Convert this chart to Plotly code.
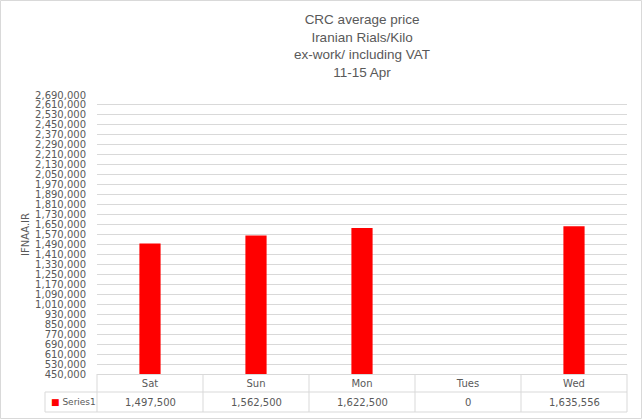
import plotly.graph_objects as go

categories = ["Sat", "Sun", "Mon", "Tues", "Wed"]
values = [1497500, 1562500, 1622500, 0, 1635556]
series_name = "Series1"
title_lines = ["CRC average price", "Iranian Rials/Kilo", "ex-work/ including VAT", "11-15 Apr"]
y_title = "IFNAA.IR"

W, H = 642, 419
L, R, T, B = 97, 15, 95, 45
pw, ph = W - L - R, H - T - B

def px(xp):
    return (xp - L) / pw

def py(yp):
    return (H - B - yp) / ph

GRID = "#d9d9d9"
TXT = "#595959"
TICKFONT = dict(family="DejaVu Sans, Verdana, sans-serif", size=10, color=TXT)

fig = go.Figure()
fig.add_trace(go.Bar(x=categories, y=values, name=series_name, width=0.2,
                     marker=dict(color="#ff0000", line=dict(width=0)), showlegend=False))

shapes = []
line = dict(color=GRID, width=1)
# table horizontal lines
shapes.append(dict(type="line", xref="paper", yref="paper", x0=px(45), x1=1, y0=py(392), y1=py(392), line=line))
shapes.append(dict(type="line", xref="paper", yref="paper", x0=px(45), x1=1, y0=py(412), y1=py(412), line=line))
# table vertical lines
shapes.append(dict(type="line", xref="paper", yref="paper", x0=0, x1=0, y0=0, y1=py(412), line=line))
shapes.append(dict(type="line", xref="paper", yref="paper", x0=1, x1=1, y0=0, y1=py(412), line=line))
shapes.append(dict(type="line", xref="paper", yref="paper", x0=px(45), x1=px(45), y0=py(392), y1=py(412), line=line))
for i in range(len(categories) - 1):
    shapes.append(dict(type="line", xref="x", yref="paper", x0=i + 0.5, x1=i + 0.5, y0=0, y1=py(412), line=line))
# outer border
shapes.append(dict(type="rect", xref="paper", yref="paper", x0=px(0.5), x1=px(W - 0.5), y0=py(0.5), y1=py(H - 0.5),
                   line=dict(color=GRID, width=1), fillcolor="rgba(0,0,0,0)", layer="below"))

annotations = []
for c, v in zip(categories, values):
    annotations.append(dict(x=c, xref="x", y=py(402), yref="paper", text=f"{v:,}", showarrow=False,
                            font=TICKFONT, xanchor="center", yanchor="middle"))
annotations.append(dict(x=px(49), xref="paper", y=py(402), yref="paper",
                        text=f"<span style='color:#ff0000'>■</span> {series_name}", showarrow=False,
                        font=dict(family=TICKFONT["family"], size=9, color=TXT),
                        xanchor="left", yanchor="middle"))
annotations.append(dict(x=0.5, xref="paper", y=py(10), yref="paper",
                        text="<br>".join(title_lines), showarrow=False, align="center",
                        font=dict(family="Liberation Sans Narrow, Arial Narrow, Liberation Sans, Arial", size=13.5, color=TXT),
                        xanchor="center", yanchor="top"))

fig.update_layout(
    width=W, height=H,
    margin=dict(l=L, r=R, t=T, b=B),
    paper_bgcolor="white", plot_bgcolor="white",
    xaxis=dict(type="category", showgrid=False, showline=True, linecolor=GRID, linewidth=1,
               ticks="", tickfont=TICKFONT, zeroline=False),
    yaxis=dict(range=[450000, 2690000], tick0=450000, dtick=80000, tickformat=",",
               showgrid=True, gridcolor=GRID, gridwidth=1, zeroline=False, showline=False,
               ticks="", ticklabelstandoff=10, tickfont=TICKFONT,
               title=dict(text=y_title, font=TICKFONT, standoff=3)),
    shapes=shapes, annotations=annotations,
    bargap=0.8,
)

fig.write_html("out.html")
